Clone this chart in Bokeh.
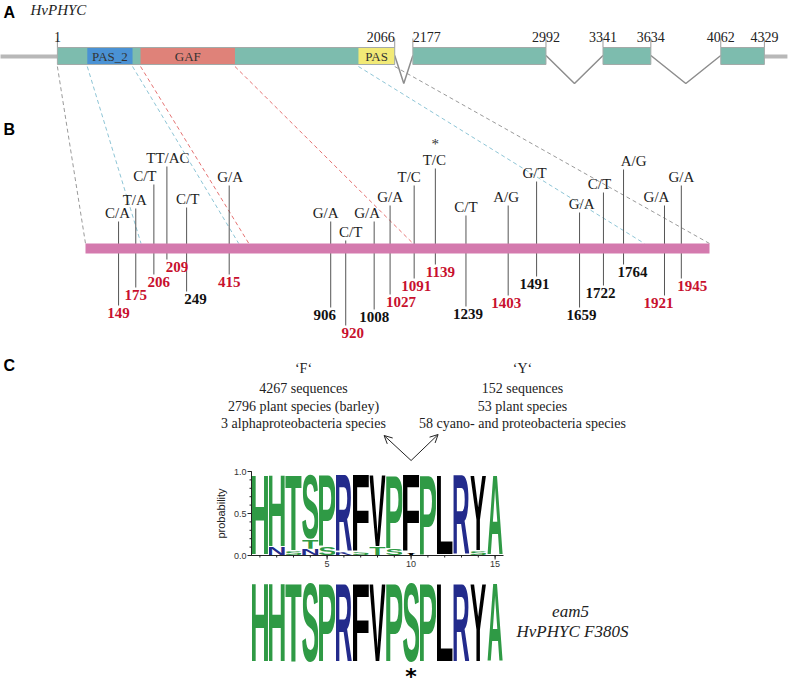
import numpy as np
from urllib.parse import quote
from bokeh.plotting import figure
from bokeh.models import Range1d, Arrow, OpenHead, ColumnDataSource
from bokeh.embed import file_html
from bokeh.resources import INLINE
from bokeh.core.properties import value

# ---------------- data ----------------
GENE_NAME = "HvPHYC"
EXON_STARTS = [1, 2177, 3341, 4062]
EXON_ENDS = [2066, 2992, 3634, 4329]
GENE_TICKS = [1, 2066, 2177, 2992, 3341, 3634, 4062, 4329]
UTR5_START = -350
UTR3_END = 4470
DOMAIN_NAMES = ["PAS_2", "GAF", "PAS"]
DOMAIN_STARTS = [184, 510, 1844]
DOMAIN_ENDS = [461, 1088, 2066]

EXON1_RANGE = [1, 2066]
SNP_POS = [149, 175, 206, 209, 249, 415, 906, 920, 1008, 1027, 1091, 1139,
           1239, 1403, 1491, 1659, 1722, 1764, 1921, 1945]
SNP_ALLELES = ["C/A", "T/A", "C/T", "TT/AC", "C/T", "G/A", "G/A", "C/T", "G/A", "G/A",
               "T/C", "T/C", "C/T", "A/G", "G/T", "G/A", "C/T", "A/G", "G/A", "G/A"]
SNP_RED = [1, 1, 1, 1, 0, 1, 0, 1, 0, 1, 1, 1, 0, 1, 0, 0, 0, 0, 1, 1]
SNP_STARRED = 1139

F_GROUP = ["\u2018F\u2018", "4267 sequences", "2796 plant species (barley)", "3 alphaproteobacteria species"]
Y_GROUP = ["\u2018Y\u2018", "152 sequences", "53 plant species", "58 cyano- and proteobacteria species"]

LOGO_POSITIONS = list(range(1, 16))
LOGO_LETTERS = [["H"], ["N", "H"], ["S", "T"], ["N", "T", "S"], ["S", "P"], ["K", "R"], ["S", "F"],
                ["T", "V"], ["S", "P"], ["Y", "F"], ["P"], ["L"], ["R"], ["S", "Y"], ["A"]]
LOGO_PROBS = [[1.0], [0.10, 0.90], [0.05, 0.95], [0.08, 0.12, 0.80], [0.10, 0.90], [0.04, 0.96],
              [0.04, 0.96], [0.10, 0.90], [0.08, 0.92], [0.035, 0.965], [1.0], [1.0], [1.0],
              [0.05, 0.95], [1.0]]
LOGO_YTICKS = [0.0, 0.5, 1.0]
LOGO_XTICKS = [5, 10, 15]
MUTANT_SEQ = "HHTSPRFVPSPLRYA"
MUTANT_LABEL = ["eam5", "HvPHYC F380S"]
MUTATION_SITE = 10

# ---------------- layout / style ----------------
W, H = 794, 689
SERIF = value("Liberation Serif")
SANS = value("Liberation Sans")
TEAL = "#7dbcae"
DOMAIN_COLORS = ["#4a92d4", "#df8279", "#f2ea77"]
RED = "#c8102e"
GREEN, BLUE, BLACK = "#2f9a45", "#232b8c", "#000000"
RES_COLOR = {"H": GREEN, "T": GREEN, "S": GREEN, "P": GREEN, "A": GREEN, "G": GREEN,
             "R": BLUE, "N": BLUE, "K": BLUE,
             "F": BLACK, "V": BLACK, "L": BLACK, "Y": BLACK}
INK = {"H": (7.3, 64.9), "T": (2.1, 59.0), "S": (3.3, 62.6), "P": (7.6, 61.8), "R": (7.6, 71.4),
       "F": (7.6, 56.7), "V": (0.6, 66.0), "L": (7.3, 58.3), "Y": (0.5, 66.2), "A": (0.0, 71.8),
       "N": (7.4, 64.8), "K": (7.6, 72.0), "G": (4.4, 72.7)}

GENE_X0, GENE_K = 56.74, 0.16335          # gene coordinate -> px
B_LEFT, B_RIGHT = 85, 709                  # exon-1 bar extent (px)
ALPHA = 0.6                                # linear / rank blend for the schematic SNP bar
ALLELE_Y = [212, 199, 175, 157, 198, 176, 212, 231, 212, 196, 176, 159, 206, 196, 172, 203, 183, 160, 196, 176]
NUMBER_Y = [312, 294, 281, 266, 298, 281, 314, 332, 316, 301, 285, 271, 313, 302, 283, 314, 292, 271, 302, 285]
ALLELE_DX = [-1, -1, -9, 1, 1, 1, -5, 5, -7, 0, -5, -1, 0, -2, -2, 2, -4, 10, -8, 0]
NUMBER_DX = [0, 0, 5, 10, 9, 0, -6, 7, 0, 11, 2, 5, 2, -2, -2, 2, -3, 9, -6, 11]

# logo frame: x = 0.5 at px 251, 16.8 px per position; p = 0 at px 555, p = 1 at px 471
LOGO_X_PX, LOGO_UNIT = 251, 16.8
LOGO_Y0_PX, LOGO_Y1_PX = 555, 471
ly_unit = LOGO_Y0_PX - LOGO_Y1_PX


def gx(n):
    return (GENE_X0 + GENE_K * np.asarray(n, float)).tolist()


snp = np.array(SNP_POS, float)
rank_px = B_LEFT + (B_RIGHT - B_LEFT) * (np.arange(len(snp)) + 0.5) / len(snp)
knots_p = np.r_[EXON1_RANGE[0], snp, EXON1_RANGE[1]]
knots_x = np.r_[B_LEFT, rank_px, B_RIGHT]


def bx(pos):
    pos = np.asarray(pos, float)
    lin = B_LEFT + (B_RIGHT - B_LEFT) * (pos - EXON1_RANGE[0]) / (EXON1_RANGE[1] - EXON1_RANGE[0])
    return (ALPHA * lin + (1 - ALPHA) * np.interp(pos, knots_p, knots_x)).tolist()


def letter_uri(ch, color):
    l, r = INK[ch]
    svg = ("<svg xmlns='http://www.w3.org/2000/svg' width='100' height='100' "
           f"viewBox='{l} -72.6 {r - l} 73.8' preserveAspectRatio='none'>"
           "<text x='0' y='0' font-family='Liberation Sans, Arial, Helvetica, sans-serif' "
           f"font-weight='bold' font-size='100' fill='{color}'>{ch}</text></svg>")
    return "data:image/svg+xml;charset=utf-8," + quote(svg)


p = figure(width=W, height=H, x_range=Range1d(0, W), y_range=Range1d(H, 0),
           output_backend="svg", toolbar_location=None, x_axis_type=None, y_axis_type=None,
           min_border=0)
p.grid.visible = False
p.outline_line_color = None
lx0 = 0.5 - LOGO_X_PX / LOGO_UNIT
ly0 = (LOGO_Y0_PX - H) / ly_unit
p.extra_x_ranges = {"logo": Range1d(lx0, lx0 + W / LOGO_UNIT)}
p.extra_y_ranges = {"logo": Range1d(ly0, ly0 + H / ly_unit)}

# panel letters
p.text(x=[3, 3, 3], y=[12, 129, 365], text=["A", "B", "C"], text_font=SANS,
       text_font_style="bold", text_font_size=value("16px"), text_baseline="middle")
p.text(x=[30], y=[9], text=[GENE_NAME], text_font=SERIF, text_font_style="italic",
       text_font_size=value("15px"), text_baseline="middle", text_color="#222222")

# ---------- panel A: gene model ----------
conn_p = [EXON1_RANGE[0], DOMAIN_STARTS[0], DOMAIN_ENDS[0], DOMAIN_STARTS[1], DOMAIN_ENDS[1],
          DOMAIN_STARTS[2], EXON1_RANGE[1]]
conn_c = ["#9a9a9a", "#8ec5d6", "#8ec5d6", "#e57373", "#e57373", "#8ec5d6", "#9a9a9a"]
p.segment(x0=gx(conn_p), y0=[66] * 7, x1=bx(conn_p), y1=[243] * 7, line_color=conn_c,
          line_dash="4 3", line_width=1)

p.segment(x0=gx([UTR5_START, EXON_ENDS[-1]]), y0=[56, 56], x1=gx([EXON_STARTS[0], UTR3_END]),
          y1=[56, 56], line_color="#b8b8b8", line_width=4)
ixs, iys = [], []
for e, s in zip(EXON_ENDS[:-1], EXON_STARTS[1:]):
    ixs.append(gx([e, (e + s) / 2, s]))
    iys.append([55, 83, 55])
p.multi_line(ixs, iys, line_color="#8d8d8d", line_width=1.5)
p.quad(left=gx(EXON_STARTS), right=gx(EXON_ENDS), top=47, bottom=64, fill_color=TEAL,
       line_color=None)
p.quad(left=gx(DOMAIN_STARTS), right=gx(DOMAIN_ENDS), top=47, bottom=64,
       fill_color=DOMAIN_COLORS, line_color=None)
p.quad(left=gx(EXON_STARTS), right=gx(EXON_ENDS), top=47, bottom=64, fill_color=None,
       line_color="#a3aaa8", line_width=1)
dom_mid = [(a + b) / 2 for a, b in zip(DOMAIN_STARTS, DOMAIN_ENDS)]
p.text(x=gx(dom_mid), y=[56] * 3, text=DOMAIN_NAMES, text_font=SERIF,
       text_font_size=value("13px"), text_align="center", text_baseline="middle",
       text_color="#333333")
p.segment(x0=gx(GENE_TICKS), y0=[38] * 8, x1=gx(GENE_TICKS), y1=[47] * 8,
          line_color="#9a9a9a", line_width=1)
tick_src = ColumnDataSource(dict(x=gx(GENE_TICKS), y=[36] * 8, t=[str(t) for t in GENE_TICKS],
                                 al=["center", "right", "left", "center", "center", "center",
                                     "center", "center"]))
p.text(x="x", y="y", text="t", text_align="al", source=tick_src, text_font=SERIF,
       text_font_size=value("14px"), text_baseline="alphabetic", text_color="#222222")

# ---------- panel B: SNPs on exon 1 ----------
sx = bx(SNP_POS)
p.segment(x0=sx, y0=[a + 9 for a in ALLELE_Y], x1=sx, y1=[n - 7 for n in NUMBER_Y],
          line_color="#555555", line_width=1)
p.quad(left=bx([EXON1_RANGE[0]]), right=bx([EXON1_RANGE[1]]), top=243, bottom=253,
       fill_color="#d47aae", line_color=None)
p.text(x=[x + d for x, d in zip(sx, ALLELE_DX)], y=ALLELE_Y, text=SNP_ALLELES, text_font=SERIF,
       text_font_size=value("15px"), text_align="center", text_baseline="middle",
       text_color="#222222")
star_i = SNP_POS.index(SNP_STARRED)
p.text(x=[sx[star_i]], y=[143], text=["*"], text_font=SERIF, text_font_size=value("15px"),
       text_align="center", text_baseline="middle", text_color="#333333")
p.text(x=[x + d for x, d in zip(sx, NUMBER_DX)], y=NUMBER_Y, text=[str(s) for s in SNP_POS],
       text_font=SERIF, text_font_style="bold", text_font_size=value("15px"),
       text_align="center", text_baseline="middle",
       text_color=[RED if r else "#111111" for r in SNP_RED])

# ---------- panel C ----------
grp_y = [368, 388, 406, 423]
p.text(x=[303] * 4, y=grp_y, text=F_GROUP, text_font=SERIF, text_font_size=value("14px"),
       text_align="center", text_baseline="middle", text_color="#222222")
p.text(x=[522] * 4, y=grp_y, text=Y_GROUP, text_font=SERIF, text_font_size=value("14px"),
       text_align="center", text_baseline="middle", text_color="#222222")
for dx, ty in [(-27, 435), (27, 434)]:
    p.add_layout(Arrow(end=OpenHead(size=8, line_width=1, line_color="#222222"),
                       x_start=MUTATION_SITE, y_start=460,
                       x_end=MUTATION_SITE + dx / LOGO_UNIT, y_end=ty,
                       x_range_name="logo", line_width=1, line_color="#222222"))

# sequence logo (probability units)
lx, lyb, lh, lu = [], [], [], []
for pos, letters, probs in zip(LOGO_POSITIONS, LOGO_LETTERS, LOGO_PROBS):
    base = 0.0
    for ch, pr in zip(letters, probs):
        lx.append(pos - 0.48)
        lyb.append(base)
        lh.append(pr)
        lu.append(letter_uri(ch, RES_COLOR[ch]))
        base += pr
p.image_url(url="u", x="x", y="y", w=0.96, h="h", anchor="bottom_left",
            x_range_name="logo", y_range_name="logo",
            source=ColumnDataSource(dict(u=lu, x=lx, y=lyb, h=lh)))

# logo axes
xl0, xl1 = LOGO_POSITIONS[0] - 0.5, LOGO_POSITIONS[-1] + 0.5
tx = 1.0 / LOGO_UNIT
ty = 1.0 / ly_unit
p.segment(x0=[xl0, xl0], y0=[0, 0], x1=[xl0, xl1], y1=[1, 0], line_color="#222222",
          line_width=1, x_range_name="logo", y_range_name="logo")
minor_y = [i / 10 for i in range(11)]
p.segment(x0=[xl0] * 11, y0=minor_y, x1=[xl0 - 2 * tx] * 11, y1=minor_y, line_color="#222222",
          line_width=1, x_range_name="logo", y_range_name="logo")
p.segment(x0=[xl0] * 3, y0=LOGO_YTICKS, x1=[xl0 - 4 * tx] * 3, y1=LOGO_YTICKS,
          line_color="#222222", line_width=1, x_range_name="logo", y_range_name="logo")
p.segment(x0=LOGO_POSITIONS, y0=[0] * 15, x1=LOGO_POSITIONS, y1=[-2 * ty] * 15,
          line_color="#222222", line_width=1, x_range_name="logo", y_range_name="logo")
p.segment(x0=LOGO_XTICKS, y0=[0] * 3, x1=LOGO_XTICKS, y1=[-4 * ty] * 3,
          line_color="#222222", line_width=1, x_range_name="logo", y_range_name="logo")
p.text(x=[xl0 - 5 * tx] * 3, y=LOGO_YTICKS, text=["%.1f" % v for v in LOGO_YTICKS],
       text_font=SANS, text_font_size=value("9px"), text_align="right", text_baseline="middle",
       text_color="#333333", x_range_name="logo", y_range_name="logo")
p.text(x=LOGO_XTICKS, y=[-5 * ty] * 3, text=[str(v) for v in LOGO_XTICKS],
       text_font=SANS, text_font_size=value("9px"), text_align="center", text_baseline="top",
       text_color="#333333", x_range_name="logo", y_range_name="logo")
p.text(x=[xl0 - 31 * tx], y=[0.5], text=["probability"], angle=np.pi / 2, text_font=SANS,
       text_font_size=value("11px"), text_align="center", text_baseline="middle",
       text_color="#222222", x_range_name="logo", y_range_name="logo")

# mutant sequence (eam5)
p.image_url(url="u", x="x", y="y", w=0.96, h=82, anchor="top_left", x_range_name="logo",
            source=ColumnDataSource(dict(u=[letter_uri(c, RES_COLOR[c]) for c in MUTANT_SEQ],
                                         x=[i - 0.48 for i in LOGO_POSITIONS],
                                         y=[580] * len(MUTANT_SEQ))))
p.text(x=[MUTATION_SITE], y=[676], text=["*"], text_font=value("DejaVu Sans"),
       text_font_style="bold", text_font_size=value("22px"), text_align="center",
       text_baseline="middle", x_range_name="logo")
p.text(x=[570, 572], y=[611, 631], text=MUTANT_LABEL, text_font=SERIF,
       text_font_style="italic", text_font_size=value("17px"), text_align="center",
       text_baseline="middle", text_color="#222222")

open("out.html", "w").write(file_html(p, INLINE))
